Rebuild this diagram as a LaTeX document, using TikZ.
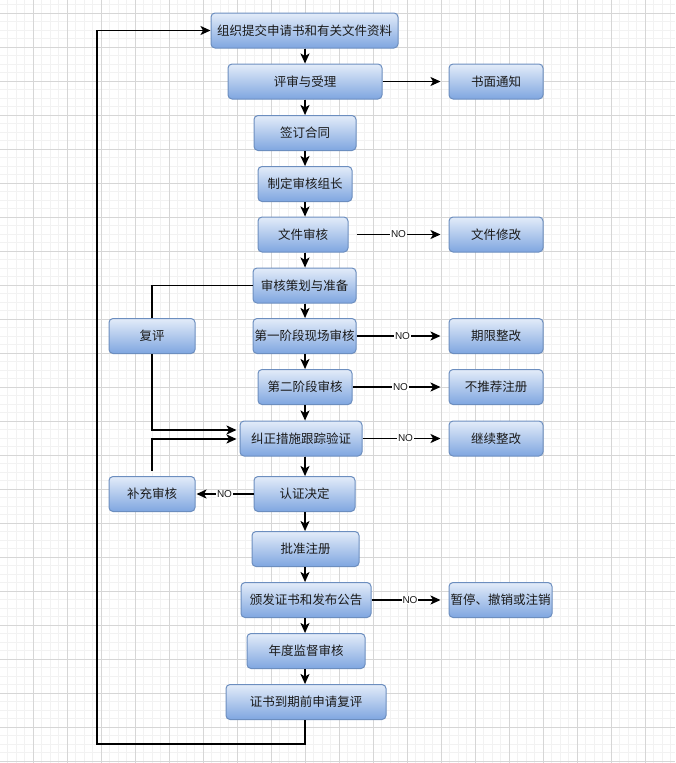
\documentclass[tikz,border=0pt]{standalone}
\usepackage{fontspec}
\newfontfamily\cjk{Noto Sans CJK SC}
\newfontfamily\lab{Liberation Sans}
\usetikzlibrary{arrows.meta,calc}
\definecolor{boxtop}{HTML}{E3ECF9}
\definecolor{boxbot}{HTML}{7FA6E0}
\definecolor{boxline}{HTML}{6C8EBF}
\definecolor{txt}{HTML}{1A1A1A}
\definecolor{gridmajor}{HTML}{D6D6D6}
\definecolor{gridminor}{HTML}{F2F2F2}
\tikzset{
  box/.style={draw=boxline, line width=1pt, rounded corners=4pt, top color=boxtop, bottom color=boxbot,
    minimum height=35pt, inner sep=0pt, text=txt, font=\cjk\fontsize{12.5}{14}\selectfont},
  conn/.style={line width=1.6pt, black},
  arr/.style={conn, -{Stealth[length=10pt,width=9pt,inset=2.5pt]}},
  nolab/.style={fill=white, inner sep=0.8pt, text=txt, font=\lab\fontsize{10}{10}\selectfont},
  minorline/.style={gridminor, line width=0.5pt},
  majorline/.style={gridmajor, line width=0.6pt}
}
\begin{document}
\begin{tikzpicture}[x=1pt,y=-1pt]
\useasboundingbox (0,0) rectangle (675,763);
\fill[white] (0,0) rectangle (675,763);
% grid
\foreach \i in {0,...,80} {
  \draw[minorline] ({-1+8.5*\i},0) -- ({-1+8.5*\i},763);
}
\foreach \i in {0,...,90} {
  \draw[minorline] (0,{-4+8.5*\i}) -- (675,{-4+8.5*\i});
}
\foreach \i in {0,...,20} {
  \draw[majorline] ({-1+34*\i},0) -- ({-1+34*\i},763);
}
\foreach \i in {0,...,22} {
  \draw[majorline] (0,{13+34*\i}) -- (675,{13+34*\i});
}
% main column
\coordinate (cx) at (305,0);
\node[box, minimum width=187pt] (n1) at (304.5,30.5) {组织提交申请书和有关文件资料};
\node[box, minimum width=154pt] (n2) at (305,81.5) {评审与受理};
\node[box, minimum width=102pt] (n3) at (305,133) {签订合同};
\node[box, minimum width=94pt] (n4) at (305,184) {制定审核组长};
\node[box, minimum width=90pt] (n5) at (303,234.5) {文件审核};
\node[box, minimum width=103pt] (n6) at (304.5,285.5) {审核策划与准备};
\node[box, minimum width=103pt] (n7) at (304.5,336) {第一阶段现场审核};
\node[box, minimum width=94pt] (n8) at (305,387) {第二阶段审核};
\node[box, minimum width=122pt] (n9) at (301,438.5) {纠正措施跟踪验证};
\node[box, minimum width=101pt] (n10) at (304.5,494) {认证决定};
\node[box, minimum width=107pt] (n11) at (305.5,549) {批准注册};
\node[box, minimum width=130pt] (n12) at (306,600) {颁发证书和发布公告};
\node[box, minimum width=118pt] (n13) at (306,651) {年度监督审核};
\node[box, minimum width=160pt] (n14) at (306,702) {证书到期前申请复评};
% right column
\node[box, minimum width=94pt] (r1) at (496,81.5) {书面通知};
\node[box, minimum width=94pt] (r2) at (496,234.5) {文件修改};
\node[box, minimum width=94pt] (r3) at (496,336) {期限整改};
\node[box, minimum width=94pt] (r4) at (496,387) {不推荐注册};
\node[box, minimum width=94pt] (r5) at (496,438.5) {继续整改};
\node[box, minimum width=103pt] (r6) at (500.5,600) {暂停、撤销或注销};
% left column
\node[box, minimum width=86pt] (l1) at (152,336) {复评};
\node[box, minimum width=86pt] (l2) at (152,494) {补充审核};
% vertical chain
\foreach \a/\b in {n1/n2,n2/n3,n3/n4,n4/n5,n5/n6,n6/n7,n7/n8,n8/n9,n9/n10,n10/n11,n11/n12,n12/n13,n13/n14} {
  \draw[arr] (\a.south -| cx) -- (\b.north -| cx);
}
% right branches
\draw[arr, line width=1.1pt, shorten >=8pt] (n2.east) -- (r1.west);
\draw[arr, shorten <=8pt, shorten >=8pt] (n5.east) -- node[nolab]{NO} (r2.west);
\draw[arr, shorten >=8pt] (n7.east) -- node[nolab]{NO} (r3.west);
\draw[arr, shorten >=8pt] (n8.east) -- node[nolab]{NO} (r4.west);
\draw[arr, shorten >=8pt] (n9.east) -- node[nolab]{NO} (r5.west);
\draw[arr, shorten >=8pt] (n12.east) -- node[nolab]{NO} (r6.west);
% left branches
\draw[arr, shorten >=1pt] (n10.west) -- node[nolab]{NO} (l2.east);
\draw[conn] (n6.west) -| (l1.north);
\draw[arr, shorten >=3pt] (l1.south) |- ([yshift=8.5pt]n9.west);
\draw[arr, shorten <=5pt, shorten >=3pt] (l2.north) |- ([yshift=-0.5pt]n9.west);
% loop back
\coordinate (lb) at (97,744);
\draw[arr] (n14.south -| cx) |- (lb) |- (n1.west);
\end{tikzpicture}
\end{document}
